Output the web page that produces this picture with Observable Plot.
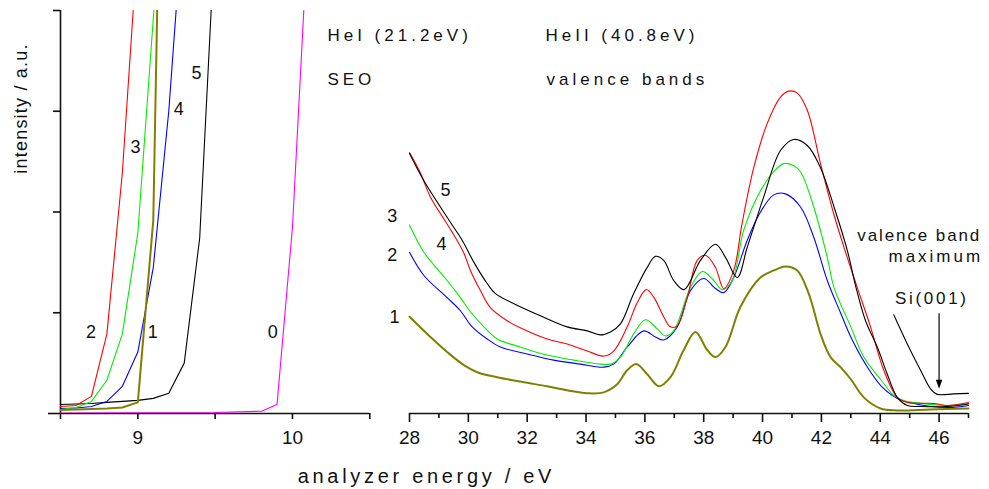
<!DOCTYPE html>
<html>
<head>
<meta charset="utf-8">
<script src="https://cdn.jsdelivr.net/npm/d3@7"></script>
<script src="https://cdn.jsdelivr.net/npm/@observablehq/plot@0.6"></script>
<style>
  html, body { margin: 0; padding: 0; background: #fff; }
  #wrap { position: relative; width: 989px; height: 489px; overflow: hidden; }
  #wrap svg { position: absolute; left: 0; top: 0; overflow: visible; background: transparent; }
</style>
</head>
<body>
<div id="wrap"></div>
<script>
// ---------- SEO (secondary electron onset) panel, HeI ----------
const seoTicks = [9, 10];
const seoMinorTicks = [8.5, 9.5, 10.5];
const seo0 = [[8.5,0.005],[9.0,0.007],[9.5,0.01],[9.8,0.023],[9.9,0.09],[10.0,1.85],[10.1,4.79]];
const seo1 = [[8.5,0.035],[8.6,0.04],[8.7,0.045],[8.8,0.05],[8.9,0.06],[9.0,0.11],[9.1,1.92],[9.2,10.2]];
const seo2 = [[8.5,0.07],[8.6,0.08],[8.7,0.17],[8.8,0.79],[8.9,2.39],[9.0,4.69]];
const seo3 = [[8.5,0.04],[8.6,0.06],[8.7,0.12],[8.8,0.33],[8.9,0.79],[9.0,1.79],[9.1,3.92],[9.2,6.1]];
const seo4 = [[8.5,0.05],[8.6,0.055],[8.7,0.07],[8.8,0.12],[8.9,0.27],[9.0,0.61],[9.1,1.45],[9.2,3.0],[9.3,5.1]];
const seo5 = [[8.5,0.09],[8.6,0.094],[8.7,0.1],[8.8,0.11],[8.9,0.12],[9.0,0.13],[9.1,0.15],[9.2,0.2],[9.3,0.5],[9.4,1.74],[9.5,4.79]];

// ---------- valence band panel, HeII ----------
const vbTicks = [28, 30, 32, 34, 36, 38, 40, 42, 44, 46];
const vbMinorTicks = [29, 31, 33, 35, 37, 39, 41, 43, 45, 47];
const vb5 = [[28,2.58],[28.49,2.31],[29.34,1.92],[29.79,1.72],[30.19,1.50],[30.64,1.29],[30.92,1.19],[31.55,1.09],[32.45,0.97],[33.36,0.86],[34.04,0.82],[34.49,0.78],[34.83,0.81],[35.17,0.89],[35.62,1.19],[36.08,1.45],[36.36,1.56],[36.64,1.52],[36.98,1.32],[37.33,1.23],[37.89,1.52],[38.4,1.68],[38.74,1.55],[39.14,1.35],[39.48,1.65],[40.04,2.15],[40.61,2.61],[41.06,2.72],[41.52,2.66],[41.97,2.44],[42.43,2.05],[42.88,1.62],[43.16,1.27],[43.5,0.92],[43.9,0.66],[44.24,0.39],[44.58,0.16],[44.92,0.08],[45.37,0.07],[46.27,0.07],[47,0.095]];
const vb4 = [[28,2.59],[28.35,2.40],[28.71,2.15],[29.17,1.93],[29.45,1.80],[29.85,1.59],[30.07,1.42],[30.41,1.22],[30.75,1.05],[31.32,0.92],[32.0,0.82],[32.68,0.74],[33.36,0.69],[34.04,0.62],[34.6,0.57],[34.94,0.62],[35.4,0.86],[35.74,1.10],[36.05,1.23],[36.31,1.15],[36.64,0.96],[36.87,0.86],[37.1,0.87],[37.44,1.15],[37.78,1.52],[38.06,1.57],[38.4,1.45],[38.68,1.24],[39.02,1.42],[39.3,1.88],[39.7,2.44],[40.16,2.88],[40.61,3.14],[40.89,3.20],[41.18,3.18],[41.52,3.01],[41.97,2.48],[42.42,1.98],[42.8,1.62],[43.22,1.25],[43.67,0.86],[44.12,0.43],[44.58,0.16],[44.92,0.11],[45.82,0.10],[46.27,0.08],[47,0.11]];
const vb3 = [[28,1.87],[28.49,1.60],[29.28,1.32],[29.73,1.15],[30.07,1.01],[30.53,0.86],[30.98,0.74],[31.77,0.66],[32.68,0.58],[33.58,0.53],[34.49,0.49],[34.83,0.49],[35.17,0.56],[35.62,0.79],[36.02,0.93],[36.42,0.84],[36.7,0.77],[36.98,0.82],[37.55,1.25],[37.95,1.41],[38.34,1.32],[38.63,1.23],[38.97,1.32],[39.36,1.82],[39.93,2.21],[40.38,2.40],[40.72,2.48],[41.06,2.46],[41.29,2.40],[41.74,2.05],[42.2,1.55],[42.43,1.25],[43.0,0.86],[43.44,0.56],[44.01,0.34],[44.46,0.18],[44.8,0.13],[45.14,0.11],[46.27,0.08],[47,0.10]];
const vb2 = [[28,1.60],[28.49,1.37],[29.28,1.15],[29.73,1.02],[30.13,0.86],[30.64,0.74],[31.09,0.66],[32.0,0.59],[32.9,0.53],[33.81,0.49],[34.6,0.46],[34.94,0.49],[35.4,0.66],[35.96,0.82],[36.36,0.76],[36.64,0.73],[37.1,0.86],[37.55,1.22],[38.0,1.34],[38.4,1.24],[38.68,1.20],[39.02,1.35],[39.48,1.72],[39.93,2.0],[40.38,2.17],[40.78,2.18],[41.29,2.05],[41.74,1.75],[42.2,1.32],[42.65,1.0],[43.0,0.76],[43.5,0.49],[44.01,0.28],[44.58,0.15],[45.14,0.10],[46.27,0.06],[47,0.08]];
const vb1 = [[28,0.96],[28.71,0.76],[29.28,0.61],[29.85,0.48],[30.3,0.41],[30.98,0.36],[31.89,0.31],[32.68,0.27],[33.36,0.23],[34.15,0.20],[34.6,0.21],[35.06,0.29],[35.4,0.43],[35.72,0.49],[36.08,0.39],[36.48,0.27],[36.87,0.36],[37.32,0.63],[37.72,0.81],[38.12,0.63],[38.4,0.56],[38.74,0.66],[39.25,1.06],[39.93,1.35],[40.38,1.42],[40.78,1.46],[41.18,1.42],[41.57,1.19],[41.97,0.79],[42.31,0.56],[42.65,0.46],[43.0,0.34],[43.44,0.16],[44.01,0.05],[44.58,0.03],[45.71,0.04],[47,0.05]];
const si001 = [[44.46,0.98],[44.92,0.69],[45.37,0.43],[45.71,0.245],[45.94,0.19],[46.5,0.195],[47,0.20]];
const vbmEnergy = [46];

const FONT = "'Liberation Sans', Arial, Helvetica, sans-serif";
const C = {red: "#ff0000", green: "#00ee00", blue: "#0000ff", olive: "#808000", black: "#000000", magenta: "#ff00ff"};

const blank = () => "";
const intFmt = d => String(d);
function label(text, x, y, opts = {}) {
  return Plot.text([text], {x, y, text: d => d, fill: "#111", fontSize: 18, ...opts});
}

// ---------- right (valence band) plot: full canvas, frame starts at 409px ----------
const right = Plot.plot({
  width: 989, height: 489,
  marginLeft: 409, marginRight: 21, marginTop: 10, marginBottom: 76,
  x: {domain: [28, 47], label: null},
  y: {domain: [0, 4], axis: null, label: null},
  style: {fontFamily: FONT, fontSize: "19px", color: "#111", background: "transparent", overflow: "visible"},
  marks: [
    Plot.axisX({ticks: vbMinorTicks, tickSize: 5, tickFormat: blank, strokeWidth: 1.6, label: null}),
    Plot.axisX({ticks: vbTicks, tickSize: 9, tickPadding: 8, tickFormat: intFmt, strokeWidth: 1.6, label: null}),
    Plot.ruleY([0], {strokeWidth: 1.6, stroke: "#111"}),
    Plot.line(vb1, {stroke: C.olive, strokeWidth: 2, curve: "catmull-rom"}),
    Plot.line(vb2, {stroke: C.blue, strokeWidth: 1.1, curve: "catmull-rom"}),
    Plot.line(vb3, {stroke: C.green, strokeWidth: 1.1, curve: "catmull-rom"}),
    Plot.line(vb4, {stroke: C.red, strokeWidth: 1.1, curve: "catmull-rom"}),
    Plot.line(vb5, {stroke: C.black, strokeWidth: 1.1, curve: "catmull-rom"}),
    Plot.line(si001, {stroke: C.black, strokeWidth: 1.1, curve: "catmull-rom"}),
    // arrow to valence band maximum
    Plot.ruleX(vbmEnergy, {x: d => d, y1: 0.99, y2: 0.30, stroke: "#000", strokeWidth: 1.2}),
    Plot.dot(vbmEnergy, {x: d => d, y: 0.245, dy: -4.5, r: 4, fill: "#000", stroke: "none",
      symbol: {draw(ctx) { ctx.moveTo(0, 4.5); ctx.lineTo(-3.2, -4.5); ctx.lineTo(3.2, -4.5); ctx.closePath(); }}}),
    // curve labels
    label("5", 29.22, 2.22),
    label("3", 27.41, 1.955),
    label("4", 29.09, 1.684),
    label("2", 27.41, 1.568),
    label("1", 27.49, 0.956),
    // annotations
    label("HeI (21.2eV)", 25.21, 3.752, {textAnchor: "start", fontSize: 17}),
    label("HeII (40.8eV)", 32.62, 3.752, {textAnchor: "start", fontSize: 17}),
    label("SEO", 25.21, 3.315, {textAnchor: "start", fontSize: 17}),
    label("valence bands", 32.66, 3.315, {textAnchor: "start", fontSize: 17}),
    label("valence band", 43.22, 1.77, {textAnchor: "start", fontSize: 17}),
    label("maximum", 44.28, 1.561, {textAnchor: "start", fontSize: 17}),
    label("Si(001)", 44.50, 1.141, {textAnchor: "start", fontSize: 17}),
    label("analyzer energy / eV", 24.2, -0.631, {textAnchor: "start", fontSize: 20})
  ]
});

// ---------- left (SEO) plot ----------
const left = Plot.plot({
  width: 380, height: 489,
  marginLeft: 60, marginRight: 10.7, marginTop: 10, marginBottom: 76,
  x: {domain: [8.5, 10.5], label: null},
  y: {domain: [0, 4], label: null},
  style: {fontFamily: FONT, fontSize: "19px", color: "#111", background: "transparent", overflow: "visible"},
  marks: [
    Plot.axisX({ticks: seoMinorTicks, tickSize: 6, tickFormat: blank, strokeWidth: 1.6, label: null}),
    Plot.axisX({ticks: seoTicks, tickSize: 6, tickPadding: 11, tickFormat: intFmt, strokeWidth: 1.6, label: null}),
    Plot.axisY({ticks: [1, 2, 3, 4], tickSize: 7, tickFormat: blank, strokeWidth: 1.6, label: null}),
    Plot.axisY({ticks: [0], tickSize: 12, tickFormat: blank, strokeWidth: 1.6, label: null}),
    Plot.ruleY([0], {strokeWidth: 1.6, stroke: "#111"}),
    Plot.ruleX([8.5], {y1: 0, y2: 4, strokeWidth: 1.6, stroke: "#111"}),
    Plot.line(seo0, {stroke: C.magenta, strokeWidth: 1.1, clip: true}),
    Plot.line(seo5, {stroke: C.black, strokeWidth: 1.1, clip: true}),
    Plot.line(seo4, {stroke: C.blue, strokeWidth: 1.1, clip: true}),
    Plot.line(seo3, {stroke: C.green, strokeWidth: 1.1, clip: true}),
    Plot.line(seo2, {stroke: C.red, strokeWidth: 1.1, clip: true}),
    Plot.line(seo1, {stroke: C.olive, strokeWidth: 2, clip: true}),
    label("2", 8.698, 0.807),
    label("3", 8.985, 2.643),
    label("1", 9.097, 0.807),
    label("4", 9.265, 3.024),
    label("5", 9.379, 3.378),
    label("0", 9.872, 0.807),
    label("intensity / a.u.", 8.248, 3.027, {rotate: -90, fontSize: 18})
  ]
});

const wrap = document.getElementById("wrap");
wrap.appendChild(right);
wrap.appendChild(left);

const spacing = {
  "HeI (21.2eV)": 4, "HeII (40.8eV)": 4, "SEO": 4, "valence bands": 4,
  "valence band": 1.9, "maximum": 3, "Si(001)": 2.7,
  "analyzer energy / eV": 3.7, "intensity / a.u.": 1.2
};
d3.selectAll("#wrap text").each(function () {
  const s = spacing[this.textContent];
  if (s !== undefined) this.setAttribute("letter-spacing", s);
});
</script>
</body>
</html>
